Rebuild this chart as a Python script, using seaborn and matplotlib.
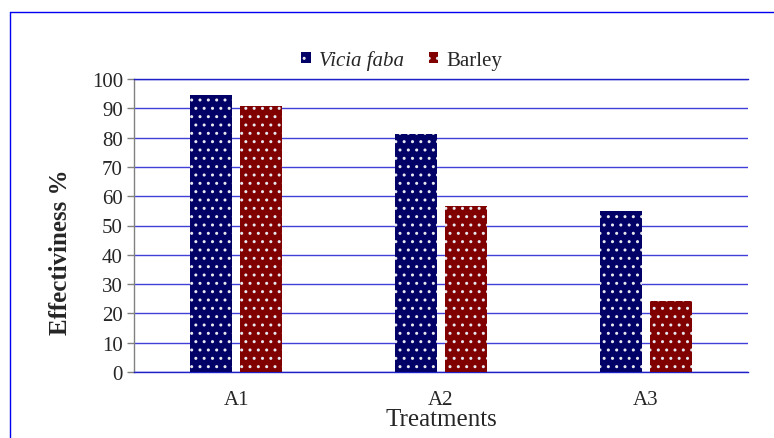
import matplotlib
matplotlib.use("Agg")
import matplotlib.pyplot as plt
from matplotlib.patches import Patch
from matplotlib.lines import Line2D
import seaborn as sns
import pandas as pd

treatments = ["A1", "A2", "A3"]
vicia_faba = [94.5, 81.2, 55.0]
barley = [90.7, 56.6, 24.4]
series_names = ["Vicia faba", "Barley"]
y_ticks = [0, 10, 20, 30, 40, 50, 60, 70, 80, 90, 100]

df = pd.DataFrame({
    "Treatment": treatments * 2,
    "Value": vicia_faba + barley,
    "Series": [series_names[0]] * 3 + [series_names[1]] * 3,
})

sns.set_theme(style="white")
plt.rcParams["font.family"] = ["Liberation Serif", "DejaVu Serif"]
plt.rcParams["hatch.linewidth"] = 1.0

colors = ["#000066", "#800000"]
grid_blue = "#4040d8"
axis_blue = "#2020c8"

fig = plt.figure(figsize=(7.74, 4.39), dpi=100)
ax = fig.add_axes([134 / 774, 1 - 373 / 439, (748 - 134) / 774, (373 - 80) / 439])

sns.barplot(data=df, x="Treatment", y="Value", hue="Series", palette=colors,
            width=0.49, gap=0.163, ax=ax, legend=False, saturation=1)

for p in ax.patches:
    p.set_hatch("..")
    p.set_edgecolor("#e8e8f0")
    p.set_linewidth(0)
    p.set_zorder(3)

ax.set_xlim(-0.5, 2.5)
ax.set_ylim(0, 100)
ax.set_yticks(y_ticks)
ax.set_yticklabels([str(v) for v in y_ticks], fontsize=15)
ax.yaxis.grid(True, color=grid_blue, linewidth=1.0, zorder=0)
ax.set_axisbelow(True)

ax.set_xticks(range(len(treatments)))
ax.set_xticklabels(treatments, fontsize=15)
ax.set_xticks([-0.5, 0.5, 1.5, 2.5], minor=True)
ax.tick_params(axis="x", which="major", length=0, pad=13)
ax.tick_params(axis="x", which="minor", length=5, color=axis_blue, width=1, direction="out")
ax.tick_params(axis="y", length=5, color="#808080", width=1, direction="out", left=True, pad=3)

ax.spines["right"].set_visible(False)
ax.spines["top"].set_color(axis_blue)
ax.spines["bottom"].set_color(axis_blue)
ax.spines["left"].set_color("#808080")
for side in ["top", "bottom", "left"]:
    ax.spines[side].set_linewidth(1.0)

ax.set_xlabel("Treatments", fontsize=18, labelpad=-1)
ax.set_ylabel("Effectiviness %", fontsize=18, fontweight="bold")
ax.yaxis.set_label_coords((72 - 134) / 614, (373 - 252) / 293)

handles = [Patch(facecolor=c, edgecolor="#e8e8f0", hatch="..", linewidth=0) for c in colors]
leg = fig.legend(handles, series_names, loc="center", bbox_to_anchor=(402 / 774, 1 - 61 / 439),
                 ncol=2, frameon=False, fontsize=15, handlelength=0.45, handleheight=0.45,
                 handletextpad=0.4, columnspacing=1.2)
leg.get_texts()[0].set_fontstyle("italic")

# outer chart border
fig.add_artist(Line2D([10 / 774, 10 / 774], [0, 1 - 13 / 439], color="#0000ee", linewidth=1.0,
                      transform=fig.transFigure))
fig.add_artist(Line2D([10 / 774, 1], [1 - 13 / 439, 1 - 13 / 439], color="#0000ee", linewidth=1.0,
                      transform=fig.transFigure))

fig.savefig("out.png", dpi=100)
